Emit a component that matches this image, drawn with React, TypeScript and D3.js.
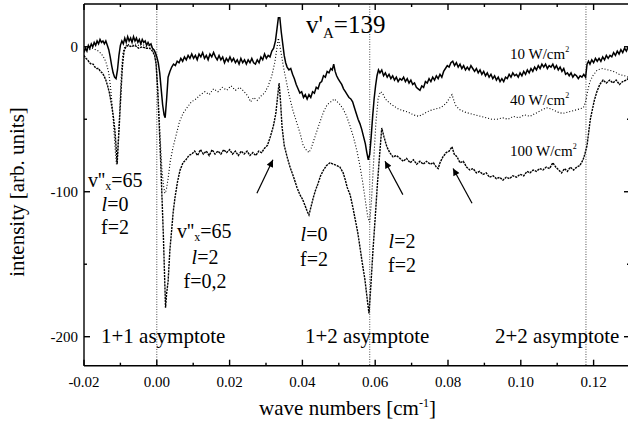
import React from "react";
import * as d3 from "d3";

// ---------- data ----------
const xTicksMajor = [-0.02, 0, 0.02, 0.04, 0.06, 0.08, 0.1, 0.12];
const xTickLabels = ["-0.02", "0.00", "0.02", "0.04", "0.06", "0.08", "0.10", "0.12"];
const xTicksMinor = [-0.01, 0.01, 0.03, 0.05, 0.07, 0.09, 0.11];
const yTicksMajor = [0, -100, -200];
const yTickLabels = ["0", "-100", "-200"];
const yTicksMinor = [-50, -150];
const asymptotes = [0, 0.0585, 0.1179];

const trace10W: [number, number][] = [
[-0.0200,-4],[-0.0196,-1],[-0.0192,-3],[-0.0188,1],[-0.0184,-1],[-0.0180,2],[-0.0176,0],[-0.0172,3],[-0.0168,1],[-0.0164,4],[-0.0160,2],[-0.0156,5],[-0.0152,3],[-0.0148,4],[-0.0144,2],[-0.0140,4],[-0.0136,1],[-0.0132,-2],[-0.0128,-7],[-0.0124,-13],[-0.0120,-18],[-0.0116,-21],[-0.0112,-22],[-0.0108,-16],[-0.0104,-6],[-0.0100,1],[-0.0096,4],[-0.0092,2],[-0.0088,6],[-0.0084,3],[-0.0080,7],[-0.0076,4],[-0.0072,6],[-0.0068,3],[-0.0064,7],[-0.0060,4],[-0.0056,6],[-0.0052,3],[-0.0048,5],[-0.0044,2],[-0.0040,5],[-0.0036,3],[-0.0032,4],[-0.0028,1],[-0.0024,3],[-0.0020,1],[-0.0016,2],[-0.0012,-1],[-0.0008,-2],[-0.0004,-4],[0.0000,-7],[0.0004,-11],[0.0008,-18],[0.0012,-29],[0.0016,-40],[0.0020,-47],[0.0023,-49],[0.0027,-36],[0.0031,-21],[0.0036,-17],[0.0041,-14],[0.0046,-12],[0.0051,-13],[0.0056,-10],[0.0061,-11],[0.0066,-8],[0.0071,-10],[0.0076,-7],[0.0081,-9],[0.0086,-6],[0.0091,-8],[0.0096,-5],[0.0101,-8],[0.0106,-6],[0.0111,-9],[0.0116,-5],[0.0121,-7],[0.0126,-4],[0.0131,-8],[0.0136,-6],[0.0141,-9],[0.0146,-5],[0.0151,-7],[0.0156,-4],[0.0161,-7],[0.0166,-9],[0.0171,-6],[0.0176,-9],[0.0181,-7],[0.0186,-11],[0.0191,-8],[0.0196,-10],[0.0201,-7],[0.0206,-10],[0.0211,-8],[0.0216,-11],[0.0221,-9],[0.0226,-12],[0.0231,-8],[0.0236,-11],[0.0241,-9],[0.0246,-12],[0.0251,-9],[0.0256,-11],[0.0261,-8],[0.0266,-11],[0.0271,-12],[0.0276,-9],[0.0281,-11],[0.0286,-7],[0.0291,-9],[0.0296,-5],[0.0301,-8],[0.0306,-6],[0.0311,-7],[0.0316,-3],[0.0321,-1],[0.0326,4],[0.0330,12],[0.0334,20],[0.0338,20],[0.0342,10],[0.0346,2],[0.0350,-6],[0.0354,-11],[0.0358,-14],[0.0363,-16],[0.0368,-15],[0.0373,-19],[0.0378,-22],[0.0383,-26],[0.0388,-29],[0.0393,-32],[0.0398,-31],[0.0403,-35],[0.0408,-33],[0.0413,-36],[0.0418,-33],[0.0423,-35],[0.0428,-31],[0.0433,-32],[0.0438,-28],[0.0443,-29],[0.0448,-25],[0.0453,-24],[0.0458,-20],[0.0463,-21],[0.0468,-17],[0.0473,-18],[0.0478,-15],[0.0482,-16],[0.0486,-12],[0.0490,-17],[0.0494,-20],[0.0498,-22],[0.0503,-24],[0.0508,-26],[0.0513,-29],[0.0518,-31],[0.0523,-33],[0.0528,-35],[0.0533,-36],[0.0538,-38],[0.0543,-42],[0.0548,-46],[0.0553,-50],[0.0558,-53],[0.0563,-57],[0.0568,-62],[0.0573,-67],[0.0577,-73],[0.0581,-78],[0.0585,-74],[0.0589,-62],[0.0593,-48],[0.0597,-36],[0.0601,-27],[0.0605,-20],[0.0609,-16],[0.0613,-18],[0.0618,-16],[0.0623,-20],[0.0628,-18],[0.0633,-21],[0.0638,-19],[0.0643,-22],[0.0648,-20],[0.0653,-23],[0.0658,-21],[0.0663,-24],[0.0668,-22],[0.0673,-23],[0.0678,-21],[0.0683,-24],[0.0688,-22],[0.0693,-25],[0.0698,-23],[0.0703,-26],[0.0708,-25],[0.0713,-28],[0.0718,-29],[0.0723,-30],[0.0728,-27],[0.0733,-28],[0.0738,-24],[0.0743,-25],[0.0748,-22],[0.0753,-24],[0.0758,-21],[0.0763,-23],[0.0768,-20],[0.0773,-22],[0.0778,-19],[0.0783,-21],[0.0788,-17],[0.0793,-15],[0.0798,-13],[0.0803,-14],[0.0808,-11],[0.0813,-10],[0.0818,-13],[0.0823,-11],[0.0828,-14],[0.0833,-12],[0.0838,-15],[0.0843,-13],[0.0848,-16],[0.0853,-14],[0.0858,-16],[0.0863,-13],[0.0868,-15],[0.0873,-17],[0.0878,-15],[0.0883,-18],[0.0888,-16],[0.0893,-19],[0.0898,-17],[0.0903,-20],[0.0908,-18],[0.0913,-21],[0.0918,-19],[0.0923,-22],[0.0928,-20],[0.0933,-23],[0.0938,-21],[0.0943,-24],[0.0948,-22],[0.0953,-24],[0.0958,-21],[0.0963,-22],[0.0968,-19],[0.0973,-21],[0.0978,-18],[0.0983,-20],[0.0988,-19],[0.0993,-21],[0.0998,-18],[0.1003,-20],[0.1008,-17],[0.1013,-19],[0.1018,-16],[0.1023,-18],[0.1028,-15],[0.1033,-17],[0.1038,-14],[0.1043,-16],[0.1048,-13],[0.1053,-15],[0.1058,-12],[0.1063,-14],[0.1068,-12],[0.1073,-15],[0.1078,-13],[0.1083,-14],[0.1088,-12],[0.1093,-15],[0.1098,-13],[0.1103,-16],[0.1108,-14],[0.1113,-17],[0.1118,-15],[0.1123,-19],[0.1128,-18],[0.1133,-20],[0.1138,-18],[0.1143,-21],[0.1148,-19],[0.1153,-20],[0.1158,-22],[0.1163,-20],[0.1168,-21],[0.1173,-19],[0.1178,-21],[0.1182,-12],[0.1186,-10],[0.1190,-12],[0.1195,-9],[0.1200,-11],[0.1205,-8],[0.1210,-10],[0.1215,-8],[0.1220,-10],[0.1225,-7],[0.1230,-9],[0.1235,-6],[0.1240,-8],[0.1245,-6],[0.1250,-7],[0.1255,-4],[0.1260,-6],[0.1265,-3],[0.1270,-5],[0.1275,-2],[0.1280,-4],[0.1285,-1],[0.1290,-3],[0.1295,0]
];

const trace40W: [number, number][] = [
[-0.0200,-2],[-0.0192,-1],[-0.0184,-2],[-0.0176,-1],[-0.0168,-2],[-0.0160,-3],[-0.0152,-5],[-0.0144,-8],[-0.0138,-12],[-0.0132,-18],[-0.0127,-28],[-0.0122,-42],[-0.0118,-57],[-0.0114,-72],[-0.0111,-81],[-0.0108,-76],[-0.0105,-60],[-0.0101,-38],[-0.0097,-16],[-0.0093,-4],[-0.0088,0],[-0.0080,2],[-0.0070,0],[-0.0060,2],[-0.0050,1],[-0.0040,2],[-0.0030,0],[-0.0020,1],[-0.0012,-1],[-0.0006,-5],[-0.0002,-12],[0.0002,-25],[0.0006,-45],[0.0010,-66],[0.0014,-84],[0.0018,-95],[0.0022,-101],[0.0026,-99],[0.0031,-91],[0.0037,-79],[0.0044,-70],[0.0052,-62],[0.0062,-52],[0.0072,-46],[0.0083,-42],[0.0095,-38],[0.0108,-36],[0.0120,-33],[0.0132,-31],[0.0144,-33],[0.0156,-29],[0.0168,-31],[0.0180,-28],[0.0192,-30],[0.0204,-27],[0.0216,-30],[0.0228,-28],[0.0240,-31],[0.0250,-34],[0.0258,-38],[0.0266,-35],[0.0276,-37],[0.0286,-34],[0.0296,-32],[0.0306,-27],[0.0316,-20],[0.0324,-11],[0.0330,-1],[0.0334,6],[0.0340,-2],[0.0348,-14],[0.0356,-24],[0.0364,-34],[0.0374,-44],[0.0384,-52],[0.0394,-60],[0.0402,-68],[0.0410,-71],[0.0418,-73],[0.0424,-70],[0.0432,-64],[0.0440,-58],[0.0448,-52],[0.0458,-45],[0.0468,-40],[0.0478,-38],[0.0488,-36],[0.0496,-38],[0.0504,-40],[0.0512,-43],[0.0520,-47],[0.0530,-54],[0.0540,-62],[0.0550,-72],[0.0558,-82],[0.0566,-94],[0.0574,-108],[0.0580,-118],[0.0585,-121],[0.0590,-105],[0.0596,-78],[0.0602,-52],[0.0608,-36],[0.0614,-31],[0.0620,-32],[0.0628,-36],[0.0640,-39],[0.0652,-41],[0.0664,-43],[0.0676,-44],[0.0690,-45],[0.0705,-47],[0.0720,-48],[0.0735,-46],[0.0750,-44],[0.0765,-43],[0.0780,-42],[0.0795,-39],[0.0805,-35],[0.0811,-33],[0.0820,-40],[0.0830,-43],[0.0845,-45],[0.0860,-46],[0.0875,-47],[0.0890,-48],[0.0905,-49],[0.0920,-50],[0.0935,-50],[0.0950,-49],[0.0965,-50],[0.0980,-48],[0.0995,-49],[0.1010,-47],[0.1025,-48],[0.1040,-46],[0.1055,-44],[0.1070,-42],[0.1085,-43],[0.1100,-45],[0.1115,-46],[0.1130,-45],[0.1145,-44],[0.1160,-43],[0.1172,-42],[0.1178,-38],[0.1184,-30],[0.1190,-24],[0.1198,-20],[0.1210,-16],[0.1225,-15],[0.1240,-16],[0.1255,-17],[0.1270,-19],[0.1285,-20],[0.1295,-21]
];

const trace100W: [number, number][] = [
[-0.0200,-6],[-0.0195,-8],[-0.0190,-9],[-0.0185,-11],[-0.0180,-12],[-0.0175,-12],[-0.0170,-14],[-0.0165,-15],[-0.0160,-15],[-0.0155,-17],[-0.0150,-18],[-0.0145,-20],[-0.0140,-23],[-0.0135,-27],[-0.0130,-32],[-0.0125,-39],[-0.0120,-47],[-0.0115,-58],[-0.0111,-72],[-0.0109,-81],[-0.0106,-67],[-0.0102,-49],[-0.0098,-29],[-0.0094,-12],[-0.0090,-3],[-0.0085,0],[-0.0078,1],[-0.0070,0],[-0.0060,1],[-0.0050,-1],[-0.0040,0],[-0.0030,-1],[-0.0020,-1],[-0.0012,-3],[-0.0006,-6],[-0.0002,-12],[0.0002,-28],[0.0006,-50],[0.0010,-75],[0.0014,-102],[0.0018,-130],[0.0021,-155],[0.0024,-180],[0.0027,-170],[0.0031,-162],[0.0036,-140],[0.0041,-126],[0.0045,-114],[0.0050,-104],[0.0057,-93],[0.0064,-85],[0.0072,-80],[0.0080,-78],[0.0088,-75],[0.0096,-74],[0.0104,-72],[0.0112,-75],[0.0120,-71],[0.0128,-74],[0.0136,-72],[0.0144,-75],[0.0152,-71],[0.0160,-74],[0.0168,-72],[0.0176,-74],[0.0184,-71],[0.0192,-73],[0.0200,-71],[0.0208,-74],[0.0216,-72],[0.0224,-75],[0.0232,-72],[0.0240,-74],[0.0248,-72],[0.0256,-75],[0.0264,-73],[0.0272,-75],[0.0280,-72],[0.0288,-73],[0.0296,-70],[0.0304,-68],[0.0312,-62],[0.0320,-55],[0.0327,-46],[0.0332,-34],[0.0336,-25],[0.0340,-38],[0.0344,-55],[0.0350,-68],[0.0358,-76],[0.0366,-83],[0.0376,-90],[0.0385,-97],[0.0393,-102],[0.0400,-105],[0.0408,-110],[0.0414,-114],[0.0418,-116],[0.0424,-110],[0.0430,-104],[0.0436,-99],[0.0442,-95],[0.0450,-89],[0.0458,-85],[0.0466,-82],[0.0476,-80],[0.0485,-81],[0.0495,-82],[0.0503,-83],[0.0512,-87],[0.0518,-92],[0.0523,-97],[0.0531,-102],[0.0538,-110],[0.0545,-119],[0.0552,-128],[0.0558,-138],[0.0565,-150],[0.0572,-161],[0.0578,-174],[0.0583,-184],[0.0588,-165],[0.0594,-140],[0.0600,-118],[0.0606,-95],[0.0612,-75],[0.0618,-56],[0.0624,-62],[0.0632,-69],[0.0640,-73],[0.0649,-76],[0.0658,-75],[0.0668,-77],[0.0677,-79],[0.0686,-77],[0.0696,-80],[0.0705,-78],[0.0714,-81],[0.0723,-79],[0.0732,-81],[0.0741,-79],[0.0751,-81],[0.0760,-80],[0.0768,-83],[0.0773,-84],[0.0778,-80],[0.0786,-76],[0.0795,-73],[0.0803,-72],[0.0811,-69],[0.0817,-74],[0.0825,-76],[0.0833,-80],[0.0842,-79],[0.0851,-83],[0.0860,-85],[0.0869,-84],[0.0878,-87],[0.0887,-86],[0.0896,-88],[0.0905,-87],[0.0914,-90],[0.0924,-89],[0.0933,-91],[0.0942,-90],[0.0951,-92],[0.0960,-90],[0.0969,-91],[0.0978,-89],[0.0988,-90],[0.0998,-88],[0.1008,-89],[0.1017,-86],[0.1025,-87],[0.1034,-85],[0.1043,-86],[0.1052,-84],[0.1061,-85],[0.1070,-83],[0.1079,-84],[0.1088,-80],[0.1096,-83],[0.1104,-85],[0.1112,-87],[0.1120,-84],[0.1128,-86],[0.1136,-83],[0.1145,-85],[0.1154,-83],[0.1162,-82],[0.1171,-78],[0.1176,-74],[0.1182,-68],[0.1187,-58],[0.1191,-50],[0.1196,-44],[0.1202,-37],[0.1209,-31],[0.1217,-26],[0.1226,-23],[0.1235,-25],[0.1244,-23],[0.1253,-25],[0.1262,-23],[0.1271,-26],[0.1280,-24],[0.1290,-23],[0.1295,-22]
];

// arrows: [tailX, tailY, headX, headY] in data units
const arrows: [number, number, number, number][] = [
  [0.0275, -101, 0.0319, -78],
  [0.0676, -102, 0.0627, -79],
  [0.0866, -108, 0.0814, -84],
];

// ---------- layout ----------
const W = 628;
const H = 428;
const M = { left: 84, right: 630, top: 4, bottom: 365.7 };
const FONT = "'Liberation Serif', 'Times New Roman', serif";

export default function App() {
  const x = d3.scaleLinear().domain([-0.02, 0.13]).range([M.left, M.right]);
  const y = d3.scaleLinear().domain([-220, 29.5]).range([M.bottom, M.top]);
  const line = d3
    .line<[number, number]>()
    .x((d) => x(d[0]))
    .y((d) => y(d[1]));

  const ax = { stroke: "#000", strokeWidth: 1.4, fill: "none" };

  return (
    <svg
      width={W}
      height={H}
      style={{ position: "absolute", left: 0, top: 0, background: "#fff" }}
      fontFamily={FONT}
    >
      <defs>
        <clipPath id="plot">
          <rect x={M.left} y={M.top} width={M.right - M.left} height={M.bottom - M.top} />
        </clipPath>
        <marker id="ah" viewBox="0 0 10 10" refX={10} refY={5} markerWidth={9} markerHeight={7} markerUnits="userSpaceOnUse" orient="auto">
          <path d="M0,0 L10,5 L0,10 z" fill="#000" />
        </marker>
      </defs>
      <rect x={0} y={0} width={W} height={H} fill="#fff" />

      {/* asymptote lines */}
      {asymptotes.map((a, i) => (
        <line key={i} x1={x(a)} x2={x(a)} y1={M.top} y2={M.bottom} stroke="#222" strokeWidth={0.8} strokeDasharray="1 1.5" />
      ))}

      <g clipPath="url(#plot)" fill="none" stroke="#000">
        <path d={line(trace40W) ?? ""} strokeWidth={1.1} strokeDasharray="1 2" />
        <path d={line(trace100W) ?? ""} strokeWidth={1.4} strokeDasharray="2.2 0.9" />
        <path d={line(trace10W) ?? ""} strokeWidth={1.5} />
      </g>

      {/* arrows */}
      {arrows.map((a, i) => (
        <line key={i} x1={x(a[0])} y1={y(a[1])} x2={x(a[2])} y2={y(a[3])} stroke="#000" strokeWidth={1.2} markerEnd="url(#ah)" />
      ))}

      {/* frame */}
      <line x1={M.left} x2={M.left} y1={M.top} y2={M.bottom} {...ax} />
      <line x1={M.left} x2={M.right} y1={M.bottom} y2={M.bottom} {...ax} />
      <line x1={M.left} x2={M.right} y1={M.top} y2={M.top} {...ax} />
      <line x1={M.right} x2={M.right} y1={M.top} y2={M.bottom} {...ax} />

      {/* x ticks */}
      {xTicksMajor.map((t, i) => (
        <g key={"xm" + i}>
          <line x1={x(t)} x2={x(t)} y1={M.bottom} y2={M.bottom - 6} {...ax} />
          <line x1={x(t)} x2={x(t)} y1={M.top} y2={M.top + 6} {...ax} />
          <text x={x(t)} y={387} fontSize={15} textAnchor="middle">{xTickLabels[i]}</text>
        </g>
      ))}
      {xTicksMinor.map((t, i) => (
        <g key={"xn" + i}>
          <line x1={x(t)} x2={x(t)} y1={M.bottom} y2={M.bottom - 3} {...ax} />
          <line x1={x(t)} x2={x(t)} y1={M.top} y2={M.top + 3} {...ax} />
        </g>
      ))}
      {/* y ticks */}
      {yTicksMajor.map((t, i) => (
        <g key={"ym" + i}>
          <line x1={M.left} x2={M.left + 6} y1={y(t)} y2={y(t)} {...ax} />
          <line x1={M.right} x2={M.right - 6} y1={y(t)} y2={y(t)} {...ax} />
          <text x={78} y={y(t)} dy="0.35em" fontSize={15} textAnchor="end">{yTickLabels[i]}</text>
        </g>
      ))}
      {yTicksMinor.map((t, i) => (
        <g key={"yn" + i}>
          <line x1={M.left} x2={M.left + 3} y1={y(t)} y2={y(t)} {...ax} />
          <line x1={M.right} x2={M.right - 3} y1={y(t)} y2={y(t)} {...ax} />
        </g>
      ))}

      {/* axis titles */}
      <text transform="translate(24,192) rotate(-90)" fontSize={21} textAnchor="middle">intensity [arb. units]</text>
      <text x={347.5} y={415} fontSize={21} textAnchor="middle">
        wave numbers [cm<tspan fontSize={12} dy={-8}>-1</tspan><tspan dy={8}>]</tspan>
      </text>

      {/* title */}
      <text x={306} y={33} fontSize={25}>
        v'<tspan fontSize={15} dy={5}>A</tspan><tspan dy={-5}>=139</tspan>
      </text>

      {/* power labels */}
      <text x={510} y={59} fontSize={15}>10 W/cm<tspan fontSize={8} dy={-7}>2</tspan></text>
      <text x={510} y={105} fontSize={15}>40 W/cm<tspan fontSize={8} dy={-7}>2</tspan></text>
      <text x={510} y={156} fontSize={15}>100 W/cm<tspan fontSize={8} dy={-7}>2</tspan></text>

      {/* line labels */}
      <g fontSize={20}>
        <text x={88} y={187}>v''<tspan fontSize={12} dy={3}>x</tspan><tspan dy={-3}>=65</tspan></text>
        <text x={115} y={211} textAnchor="middle"><tspan fontStyle="italic">l</tspan>=0</text>
        <text x={115} y={234} textAnchor="middle">f=2</text>

        <text x={177} y={238}>v''<tspan fontSize={12} dy={3}>x</tspan><tspan dy={-3}>=65</tspan></text>
        <text x={205} y={264} textAnchor="middle"><tspan fontStyle="italic">l</tspan>=2</text>
        <text x={205} y={288} textAnchor="middle">f=0,2</text>

        <text x={314} y={241} textAnchor="middle"><tspan fontStyle="italic">l</tspan>=0</text>
        <text x={314} y={266} textAnchor="middle">f=2</text>

        <text x={402} y={248} textAnchor="middle"><tspan fontStyle="italic">l</tspan>=2</text>
        <text x={402} y={272} textAnchor="middle">f=2</text>
      </g>

      {/* asymptote labels */}
      <g fontSize={21}>
        <text x={101} y={343}>1+1 asymptote</text>
        <text x={305} y={343}>1+2 asymptote</text>
        <text x={495} y={343}>2+2 asymptote</text>
      </g>
    </svg>
  );
}
